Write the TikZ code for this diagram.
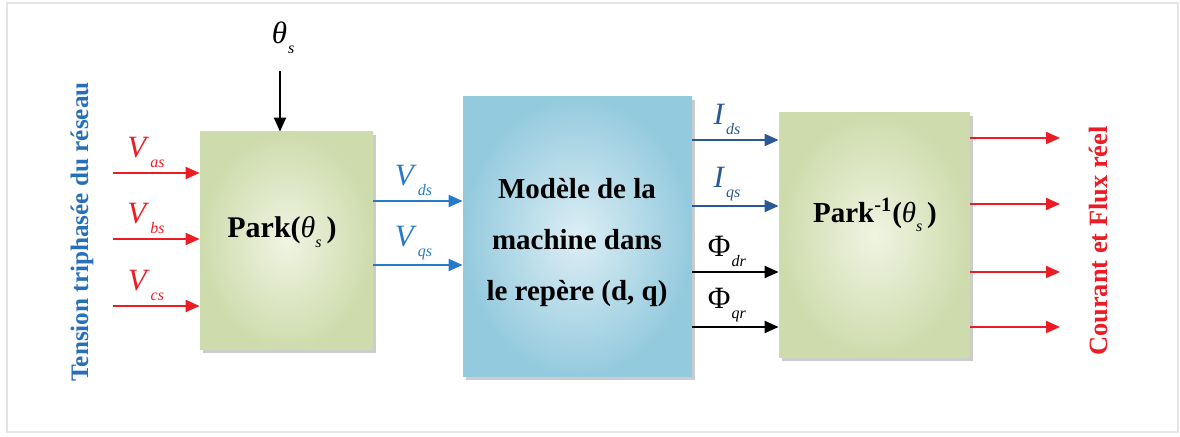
\documentclass[tikz,border=0pt]{standalone}
\usepackage{fontspec}
\setmainfont{Liberation Serif}
\usetikzlibrary{arrows.meta,shadows,calc}

\definecolor{netblue}{RGB}{38,112,186}
\definecolor{outred}{RGB}{236,28,36}
\definecolor{vblue}{RGB}{38,122,200}
\definecolor{iblue}{RGB}{42,88,148}
\definecolor{parkgreen}{RGB}{206,219,172}
\definecolor{parklight}{RGB}{240,244,226}
\definecolor{modelblue}{RGB}{148,202,222}
\definecolor{modellight}{RGB}{220,238,244}

\newcommand{\sig}[2]{#1\kern0.5pt\raisebox{-0.7ex}{\fontsize{8}{8}\selectfont\textit{#2}}}

\tikzset{
  block/.style={drop shadow={shadow xshift=1.5pt,shadow yshift=-1.5pt,fill=black!40}},
  parkbox/.style={block,shading=radial,inner color=parklight,outer color=parkgreen},
  modelbox/.style={block,shading=radial,inner color=modellight,outer color=modelblue},
  sigarrow/.style={line width=1pt,-{Triangle[length=7pt,width=6pt]}},
  siglabel/.style={font=\fontsize{15.5}{15}\selectfont,inner sep=1pt},
  boxtext/.style={font=\bfseries\fontsize{14.5}{25.5}\selectfont,align=center}
}

\begin{document}
\begin{tikzpicture}[x=0.5pt,y=-0.5pt]
  \useasboundingbox (0,0) rectangle (1180,437);
  \draw[black!10,line width=0.8pt] (7,3) rectangle (1178,432);

  % blocks
  \node[parkbox,minimum width=86.5pt,minimum height=109pt] (park) at (286.5,241) {};
  \node[modelbox,minimum width=114.5pt,minimum height=140pt] (model) at (577.5,237) {};
  \node[parkbox,minimum width=95.5pt,minimum height=122.5pt] (invpark) at (874.5,235.5) {};

  \node[font=\bfseries\fontsize{15}{15}\selectfont] (parktxt) at (282,232)
    {Park(\mdseries\textit{θ}\raisebox{-0.7ex}{\fontsize{8}{8}\selectfont\textit{s}}\bfseries\,)};
  \node[boxtext] (modeltxt) at (577,243) {Modèle de la\\machine dans\\le repère (d, q)};
  \node[font=\bfseries\fontsize{14.5}{15}\selectfont] (invtxt) at (875,215)
    {Park\textsuperscript{-1}(\mdseries\textit{θ}\raisebox{-0.7ex}{\fontsize{8}{8}\selectfont\textit{s}}\bfseries\,)};

  % side texts
  \node[rotate=90,text=netblue,font=\bfseries\fontsize{12.6}{13}\selectfont] (network) at (82,232)
    {Tension triphasée du réseau};
  \node[rotate=90,text=outred,font=\bfseries\fontsize{13.2}{14}\selectfont] (real) at (1098,241)
    {Courant et Flux réel};

  % angle input
  \node[siglabel] (theta) at (283,38) {\sig{\textit{θ}}{s}};
  \coordinate (thetain) at (280,71);
  \draw[sigarrow,black] (thetain) -- (thetain |- park.north);

  % three phase inputs
  \coordinate (vas) at (113,173);
  \coordinate (vbs) at (113,239);
  \coordinate (vcs) at (113,306);
  \draw[sigarrow,outred] (vas) -- (vas -| park.west) node[siglabel,pos=0.38,above=1pt] {\sig{\textit{V}}{as}};
  \draw[sigarrow,outred] (vbs) -- (vbs -| park.west) node[siglabel,pos=0.38,above=1pt] {\sig{\textit{V}}{bs}};
  \draw[sigarrow,outred] (vcs) -- (vcs -| park.west) node[siglabel,pos=0.38,above=1pt] {\sig{\textit{V}}{cs}};

  % dq voltages
  \draw[sigarrow,vblue] (park.east |- 0,201) -- (model.west |- 0,201) node[siglabel,pos=0.45,above=1pt] {\sig{\textit{V}}{ds}};
  \draw[sigarrow,vblue] (park.east |- 0,265) -- (model.west |- 0,265) node[siglabel,pos=0.45,above=1pt] {\sig{\textit{V}}{qs}};

  % model outputs
  \draw[sigarrow,iblue] (model.east |- 0,140) -- (invpark.west |- 0,140) node[siglabel,pos=0.4,above=1pt] {\sig{\textit{I}}{ds}};
  \draw[sigarrow,iblue] (model.east |- 0,206) -- (invpark.west |- 0,206) node[siglabel,pos=0.4,above=1pt] {\sig{\textit{I}}{qs}};
  \draw[sigarrow,black] (model.east |- 0,272) -- (invpark.west |- 0,272) node[siglabel,pos=0.4,above=1pt] {\sig{Φ}{dr}};
  \draw[sigarrow,black] (model.east |- 0,327) -- (invpark.west |- 0,327) node[siglabel,pos=0.4,above=1pt] {\sig{Φ}{qr}};

  % real outputs
  \foreach \y/\n in {138/ia,204/ib,272/ic,327/id} {
    \coordinate (\n) at (1060,\y);
    \draw[sigarrow,outred] (invpark.east |- \n) -- (\n);
  }
\end{tikzpicture}
\end{document}
